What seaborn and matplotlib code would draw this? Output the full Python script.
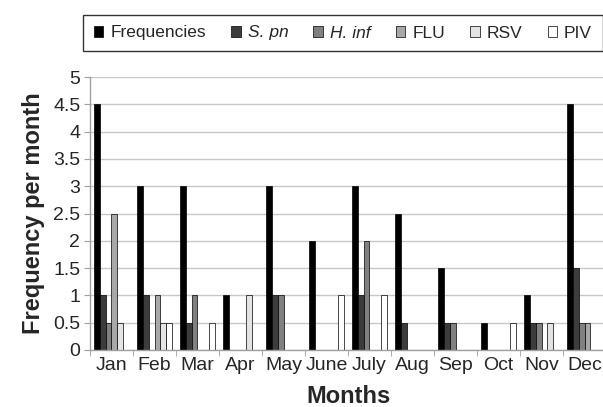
import numpy as np
import pandas as pd
import matplotlib
matplotlib.use('Agg')
import matplotlib.pyplot as plt
import seaborn as sns

# data
months = ['Jan', 'Feb', 'Mar', 'Apr', 'May', 'June', 'July', 'Aug', 'Sep', 'Oct', 'Nov', 'Dec']
series = ['Frequencies', 'S. pn', 'H. inf', 'FLU', 'RSV', 'PIV']
frequencies = [4.5, 3, 3, 1, 3, 2, 3, 2.5, 1.5, 0.5, 1, 4.5]
s_pn = [1, 1, 0.5, 0, 1, 0, 1, 0.5, 0.5, 0, 0.5, 1.5]
h_inf = [0.5, 0, 1, 0, 1, 0, 2, 0, 0.5, 0, 0.5, 0.5]
flu = [2.5, 1, 0, 0, 0, 0, 0, 0, 0, 0, 0, 0.5]
rsv = [0.5, 0.5, 0, 1, 0, 0, 0, 0, 0, 0, 0.5, 0]
piv = [0, 0.5, 0.5, 0, 0, 1, 1, 0, 0, 0.5, 0, 0]
colors = ['#000000', '#3c3c3c', '#808080', '#a8a8a8', '#e4e4e4', '#ffffff']

values = [frequencies, s_pn, h_inf, flu, rsv, piv]
df = pd.DataFrame({
    'Month': months * len(series),
    'Series': [s for s in series for _ in months],
    'Value': [v for vals in values for v in vals],
})

sns.set_style('white')
plt.rcParams['font.family'] = ['Liberation Sans', 'DejaVu Sans']

fig = plt.figure(figsize=(6.03, 4.07), dpi=100)
ax = fig.add_axes([90 / 603, 1 - 350 / 407, 516 / 603, 273 / 407])

sns.barplot(data=df, x='Month', y='Value', hue='Series', order=months, hue_order=series,
            palette=colors, width=0.8, edgecolor='black', linewidth=0.5, ax=ax,
            saturation=1, legend=True)

ax.set_ylim(0, 5)
ax.set_xlim(-0.5, 11.5)
ax.set_yticks(np.arange(0, 5.01, 0.5))
ax.set_yticklabels(['0', '0.5', '1', '1.5', '2', '2.5', '3', '3.5', '4', '4.5', '5'])
ax.yaxis.grid(True, color='#c8c8c8', linewidth=1)
ax.set_axisbelow(True)
for side in ['top', 'right']:
    ax.spines[side].set_visible(False)
for side in ['left', 'bottom']:
    ax.spines[side].set_color('#a0a0a0')
    ax.spines[side].set_linewidth(1)

ax.set_xticks(np.arange(-0.5, 12, 1), minor=True)
ax.tick_params(axis='x', which='major', length=0, labelsize=14, pad=5)
ax.tick_params(axis='x', which='minor', length=4, color='#a0a0a0', direction='out', bottom=True)
ax.tick_params(axis='y', length=4, color='#a0a0a0', direction='out', left=True, labelsize=14, pad=3)

ax.set_xlabel('Months', fontsize=17, fontweight='bold', labelpad=8)
ax.set_ylabel('Frequency per month', fontsize=17, fontweight='bold', labelpad=6)

handles, labels = ax.get_legend_handles_labels()
ax.get_legend().remove()
leg = fig.legend(handles, labels, loc='center', bbox_to_anchor=(343 / 603, 1 - 33 / 407),
                 ncol=6, frameon=True, fancybox=False, fontsize=12.5,
                 handlelength=0.55, handleheight=0.55, handletextpad=0.4, columnspacing=1.45,
                 borderpad=0.6)
leg.get_frame().set_edgecolor('black')
leg.get_frame().set_linewidth(1)
for t in leg.get_texts():
    if t.get_text() in ('S. pn', 'H. inf'):
        t.set_style('italic')

fig.savefig('out.png', dpi=100)
